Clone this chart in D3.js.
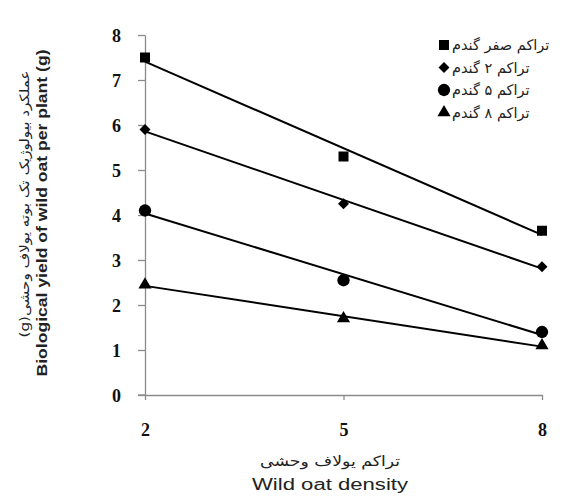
<!DOCTYPE html>
<html>
<head>
<meta charset="utf-8">
<script src="https://cdn.jsdelivr.net/npm/d3@7"></script>
<style>
  body { margin: 0; background: #fff; }
</style>
</head>
<body>
<div id="chart"></div>
<script>
// wild oat density levels (x)
const densities = [2, 5, 8];
const yTicks = [0, 1, 2, 3, 4, 5, 6, 7, 8];

// wheat density series (legend, Persian)
const seriesNames = ["تراکم صفر گندم", "تراکم ۲ گندم", "تراکم ۵ گندم", "تراکم ۸ گندم"];
const seriesShapes = ["square", "diamond", "circle", "triangle"];

// biological yield of wild oat per plant (g)
const wheat0 = [7.5, 5.3, 3.65];
const wheat2 = [5.9, 4.25, 2.85];
const wheat5 = [4.1, 2.55, 1.4];
const wheat8 = [2.45, 1.7, 1.1];
const seriesValues = [wheat0, wheat2, wheat5, wheat8];

const width = 563, height = 501;
const margin = {left: 145, right: 21, top: 35, bottom: 106};

const svg = d3.select("#chart").append("svg")
    .attr("width", width).attr("height", height);

const x = d3.scaleLinear().domain([2, 8]).range([margin.left, width - margin.right]);
const y = d3.scaleLinear().domain([0, 8]).range([height - margin.bottom, margin.top]);

// axes
const xAxis = svg.append("g")
    .attr("transform", `translate(0,${y(0)})`)
    .call(d3.axisBottom(x).tickValues(densities).tickSize(5).tickSizeOuter(0).tickFormat(d3.format("d")));
const yAxis = svg.append("g")
    .attr("transform", `translate(${x(2)},0)`)
    .call(d3.axisLeft(y).tickValues(yTicks).tickSize(7).tickSizeOuter(0));

svg.selectAll(".domain, .tick line").attr("stroke", "#8a8a8a").attr("stroke-width", 1.3);
[xAxis, yAxis].forEach(g => g.attr("font-family", null).attr("font-size", null));
svg.selectAll(".tick text")
    .style("font-family", "'Liberation Serif', 'Times New Roman', serif")
    .style("font-weight", "bold")
    .style("font-size", "18px")
    .attr("fill", "#111");
yAxis.selectAll(".tick text").attr("x", -24).attr("dy", "0.35em");
xAxis.selectAll(".tick text").attr("y", 35).attr("dy", "0.35em");
// extend the x axis line slightly left like the original
svg.append("line")
    .attr("x1", x(2) - 7).attr("x2", x(2))
    .attr("y1", y(0)).attr("y2", y(0))
    .attr("stroke", "#8a8a8a").attr("stroke-width", 1.3);

// regression lines
function fit(vals) {
  const mx = d3.mean(densities), my = d3.mean(vals);
  let num = 0, den = 0;
  densities.forEach((d, i) => { num += (d - mx) * (vals[i] - my); den += (d - mx) * (d - mx); });
  return [mx, my, num / den];
}

const rhombus = {
  draw(context, size) {
    const r = Math.sqrt(size / 2);
    context.moveTo(0, -r);
    context.lineTo(r, 0);
    context.lineTo(0, r);
    context.lineTo(-r, 0);
    context.closePath();
  }
};

const symbolFor = {
  square: d3.symbol().type(d3.symbolSquare).size(100),
  diamond: d3.symbol().type(rhombus).size(60),
  circle: d3.symbol().type(d3.symbolCircle).size(120),
  triangle: d3.symbol().type(d3.symbolTriangle).size(75)
};

seriesValues.forEach((vals, s) => {
  const [mx, my, b] = fit(vals);
  const ends = [2, 8].map(d => [d, my + b * (d - mx)]);
  svg.append("line")
      .attr("x1", x(ends[0][0])).attr("y1", y(ends[0][1]))
      .attr("x2", x(ends[1][0])).attr("y2", y(ends[1][1]))
      .attr("stroke", "#000").attr("stroke-width", 2);
  svg.append("g").selectAll("path")
      .data(vals.map((v, i) => ({x: densities[i], y: v})))
      .join("path")
      .attr("d", symbolFor[seriesShapes[s]]())
      .attr("transform", d => `translate(${x(d.x)},${y(d.y)})`)
      .attr("fill", "#000");
});

// legend
const legend = svg.append("g").attr("transform", "translate(444,45)");
seriesNames.forEach((name, i) => {
  const row = legend.append("g").attr("transform", `translate(0,${i * 22.5})`);
  row.append("path")
      .attr("d", symbolFor[seriesShapes[i]]())
      .attr("fill", "#000");
  row.append("text")
      .attr("x", 8).attr("dy", "0.35em")
      .attr("direction", "rtl")
      .attr("text-anchor", "end")
      .attr("font-family", "DejaVu Sans, sans-serif")
      .attr("font-size", 14.5)
      .attr("fill", "#222")
      .text(name);
});

// x axis titles
svg.append("text")
    .attr("x", 330).attr("y", 461).attr("dy", "0.35em")
    .attr("text-anchor", "middle")
    .attr("direction", "rtl")
    .attr("font-family", "DejaVu Sans, sans-serif")
    .attr("font-size", 14)
    .attr("textLength", 140).attr("lengthAdjust", "spacingAndGlyphs")
    .attr("fill", "#222")
    .text("تراکم یولاف وحشی");
svg.append("text")
    .attr("x", 330).attr("y", 484).attr("dy", "0.35em")
    .attr("text-anchor", "middle")
    .attr("font-family", "Liberation Sans, Arial, sans-serif")
    .attr("font-size", 16)
    .attr("textLength", 156).attr("lengthAdjust", "spacingAndGlyphs")
    .attr("fill", "#222")
    .text("Wild oat density");

// y axis titles
svg.append("text")
    .attr("transform", "translate(24,204) rotate(-90)")
    .attr("dy", "0.35em")
    .attr("text-anchor", "middle")
    .attr("direction", "rtl")
    .attr("font-family", "DejaVu Sans, sans-serif")
    .attr("font-size", 13)
    .attr("textLength", 267).attr("lengthAdjust", "spacingAndGlyphs")
    .attr("fill", "#222")
    .text("عملکرد بیولوژیک تک بوته یولاف وحشی(g)");
svg.append("text")
    .attr("transform", "translate(42,213) rotate(-90)")
    .attr("dy", "0.35em")
    .attr("text-anchor", "middle")
    .attr("font-family", "Liberation Sans, Arial, sans-serif")
    .attr("font-weight", "bold")
    .attr("font-size", 15)
    .attr("textLength", 327).attr("lengthAdjust", "spacingAndGlyphs")
    .attr("fill", "#222")
    .text("Biological yield of wild oat per plant (g)");
</script>
</body>
</html>
